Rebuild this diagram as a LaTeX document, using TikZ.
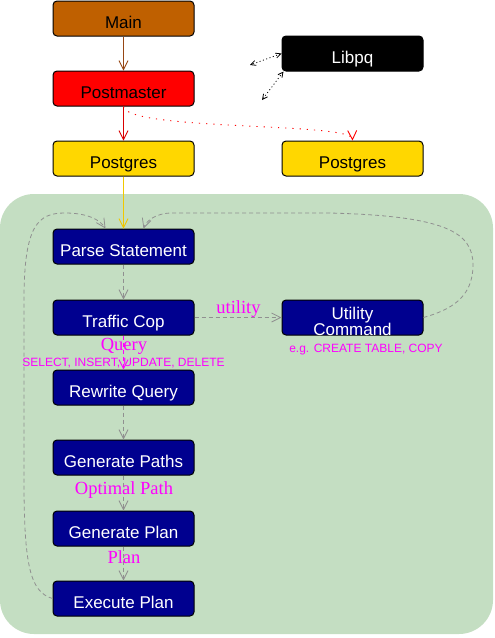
\documentclass[tikz,border=0pt]{standalone}
\usepackage{fontspec}
\setmainfont{Liberation Serif}
\setsansfont{Liberation Sans}
\usetikzlibrary{arrows.meta}
\definecolor{mainbrown}{RGB}{191,96,0}
\definecolor{navyb}{RGB}{0,0,143}
\definecolor{pggold}{RGB}{255,215,0}
\definecolor{bggreen}{RGB}{196,222,194}
\definecolor{edgegray}{RGB}{144,144,144}
\definecolor{brownline}{RGB}{150,70,20}
\definecolor{goldline}{RGB}{240,200,0}
\definecolor{mag}{RGB}{255,0,255}
\tikzset{
  mybox/.style={draw=black, line width=1pt, rounded corners=4pt, minimum width=141pt,
    minimum height=35pt, inner sep=0pt, font=\sffamily\fontsize{17}{20}\selectfont,
    text height=19pt, text depth=0pt},
  navybox/.style={mybox, fill=navyb, text=white},
  tip/.style={-{Straight Barb[length=9pt,width=9pt]}},
  garrow/.style={draw=edgegray, line width=0.8pt, dash pattern=on 4pt off 3pt, tip},
  lbl/.style={text=mag, font=\fontsize{18.5}{20}\selectfont, anchor=base, inner sep=0pt},
  slbl/.style={text=mag, font=\sffamily\fontsize{12}{14}\selectfont, anchor=base, inner sep=0pt},
}
\begin{document}
\begin{tikzpicture}[x=1pt,y=-1pt]
\useasboundingbox (0,0) rectangle (495,638);
\fill[bggreen, rounded corners=34pt] (0,194) rectangle (493,634);

\node[mybox, fill=mainbrown] (main) at (123.5,18.5) {Main};
\node[mybox, fill=red] (pm) at (123.5,88.5) {Postmaster};
\node[mybox, fill=pggold] (pg1) at (123.5,158.5) {Postgres};
\node[mybox, fill=pggold] (pg2) at (352.5,158.5) {Postgres};
\node[mybox, fill=black, text=white] (libpq) at (352.5,53.5) {Libpq};

\node[navybox] (parse) at (123.5,246.5) {Parse Statement};
\node[navybox] (tc) at (123.5,317.5) {Traffic Cop};
\node[navybox, label={[name=utiltext, text=white, align=center, inner sep=0pt,
    font=\sffamily\fontsize{17}{16}\selectfont, yshift=-4pt]center:Utility\\Command}]
  (util) at (352.5,317.5) {};
\node[navybox] (rw) at (123.5,387.5) {Rewrite Query};
\node[navybox] (gpaths) at (123.5,457.5) {Generate Paths};
\node[navybox] (gplan) at (123.5,528.5) {Generate Plan};
\node[navybox] (exec) at (123.5,598.5) {Execute Plan};

\coordinate (lp1) at (250,65);
\coordinate (lp2) at (262,100);

% top edges
\draw[brownline, line width=0.8pt, tip] (main) -- (pm);
\draw[red!85!black, line width=0.8pt, tip] (pm) -- (pg1);
\draw[red, line width=0.9pt, dash pattern=on 1.2pt off 6pt, tip]
  (pm.south) .. controls (127,131) and (352,122) .. (pg2.north);
\draw[black, line width=0.8pt, dash pattern=on 1pt off 2.5pt,
  {Straight Barb[length=5pt,width=5pt]}-{Straight Barb[length=5pt,width=5pt]}]
  (libpq.west) -- (lp1);
\draw[black, line width=0.8pt, dash pattern=on 1pt off 2.5pt,
  {Straight Barb[length=5pt,width=5pt]}-{Straight Barb[length=5pt,width=5pt]}]
  ([xshift=2pt]libpq.south west) -- (lp2);
\draw[goldline, line width=0.8pt, tip] (pg1) -- (parse);

% pipeline
\draw[garrow] (parse) -- (tc);
\draw[garrow] (tc) -- (util);
\draw[garrow, draw=mag] (tc) -- (rw);
\draw[garrow] (rw) -- (gpaths);
\draw[garrow] (gpaths) -- (gplan);
\draw[garrow] (gplan) -- (exec);

\draw[garrow] (exec.west) .. controls (30,592) and (24,565) .. (24,480)
  -- (24,300) .. controls (24,225) and (38,213) .. (65,213)
  .. controls (88,213) and (100,220) .. ([xshift=-18pt]parse.north);
\draw[garrow] (util.east) .. controls (450,310) and (473,298) .. (473,265)
  .. controls (473,232) and (445,216) .. (330,213) -- (172,213)
  .. controls (156,213) and (146,221) .. ([xshift=20pt]parse.north);

% labels
\node[lbl] (lutil) at (238.5,313) {utility};
\node[lbl] (lquery) at (124,350) {Query};
\node[slbl] (lsel) at (123.5,366) {SELECT, INSERT, UPDATE, DELETE};
\node[slbl] (leg) at (366,352) {e.g. CREATE TABLE, COPY};
\node[lbl] (lopt) at (124,494) {Optimal Path};
\node[lbl] (lplan) at (124,563) {Plan};
\end{tikzpicture}
\end{document}
